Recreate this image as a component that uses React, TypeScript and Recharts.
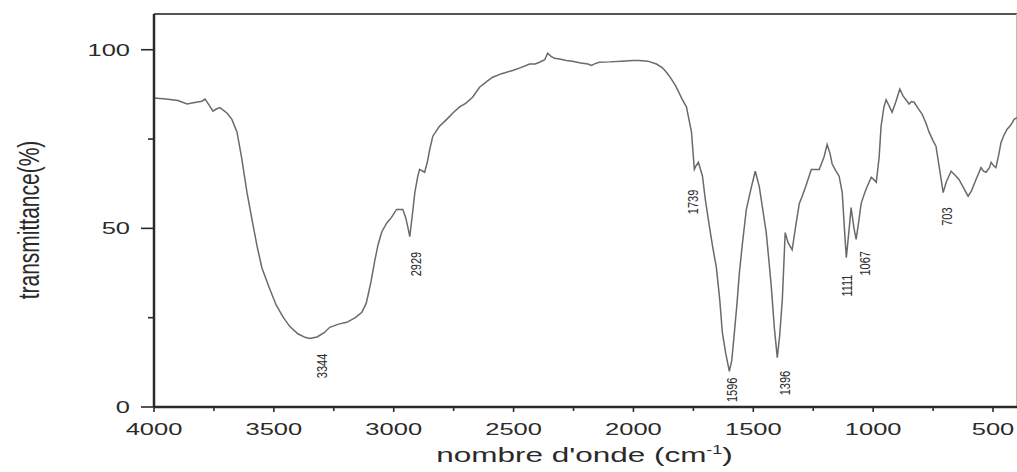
import { ComposedChart, Line, Scatter, XAxis, YAxis, ReferenceLine } from 'recharts';

// wavenumber (cm-1) and transmittance (%)
const wavenumbers = [
  4000, 3950, 3900, 3862, 3830, 3800, 3787, 3770, 3754, 3740, 3725, 3710, 3696, 3675, 3654, 3635, 3612, 3590,
  3570, 3550, 3520, 3490, 3460, 3433, 3400, 3370, 3350, 3320, 3290, 3267, 3230, 3196, 3160, 3133, 3115, 3108,
  3095, 3079, 3065, 3050, 3029, 3010, 2988, 2962, 2950, 2940, 2933, 2921, 2912, 2900, 2892, 2871, 2860, 2850,
  2837, 2810, 2779, 2750, 2725, 2700, 2671, 2642, 2610, 2587, 2550, 2504, 2470, 2433, 2410, 2392, 2370, 2358,
  2345, 2330, 2308, 2280, 2254, 2220, 2190, 2175, 2160, 2142, 2100, 2050, 2000, 1975, 1940, 1904, 1880, 1860,
  1850, 1825, 1810, 1796, 1779, 1770, 1758, 1746, 1739, 1729, 1712, 1700, 1683, 1670, 1654, 1640, 1629, 1615,
  1600, 1590, 1579, 1568, 1558, 1545, 1529, 1510, 1492, 1475, 1460, 1446, 1435, 1425, 1412, 1400, 1390, 1379,
  1367, 1355, 1338, 1320, 1308, 1296, 1280, 1258, 1240, 1225, 1205, 1192, 1180, 1171, 1155, 1142, 1129, 1120,
  1112, 1100, 1092, 1080, 1071, 1060, 1050, 1035, 1025, 1008, 995, 987, 975, 967, 955, 946, 935, 921, 905, 889,
  875, 863, 850, 840, 829, 812, 796, 780, 767, 750, 738, 725, 708, 695, 675, 660, 642, 620, 604, 590, 571, 550,
  540, 529, 515, 508, 497, 488, 475, 467, 455, 442, 425, 412, 400,
];
const transmittance = [
  86.5, 86.2, 85.8, 84.8, 85.2, 85.6, 86.2, 84.5, 82.8, 83.4, 83.8, 83.0, 82.3, 80.5, 77, 70, 60, 52,
  45, 39, 33.5, 28.5, 25, 22.5, 20.5, 19.5, 19.2, 19.6, 20.8, 22.3, 23.2, 23.7, 25, 26.5, 29, 31,
  35, 41, 45.5, 49, 51.5, 53, 55.3, 55.3, 53, 50, 47.7, 54.5, 60, 64.5, 66.5, 65.7, 68.5, 72,
  75.8, 78.5, 80.5, 82.5, 84, 85, 86.7, 89.5, 91.2, 92.3, 93.3, 94.2, 95, 96, 96, 96.5, 97.2, 99,
  98.2, 97.6, 97.4, 97, 96.8, 96.3, 96, 95.6, 96.1, 96.5, 96.6, 96.8, 97, 97, 96.8, 96, 95, 93.5,
  92.6, 90, 88, 86, 84, 81, 77, 66.5, 67.5, 68.5, 64.6, 58, 50.5, 45, 39, 30, 20.8, 15,
  10, 13, 20.8, 29, 37.6, 46, 55.3, 61, 66, 61.7, 55, 48.8, 41, 33.7, 22, 13.8, 20, 30,
  48.8, 46, 44, 52, 57, 59, 62, 66.5, 66.5, 66.5, 70, 73.5, 71, 68, 66, 64.6, 60, 50,
  41.8, 50, 55.8, 50, 46.9, 52, 57, 60, 61.7, 64.3, 63.5, 62.9, 70, 78.6, 84, 86, 84.5, 82.5, 85.5, 89,
  87, 86, 84.8, 85.5, 85.3, 83.5, 82, 79.5, 77, 74.5, 73, 67.4, 60, 63, 66, 65, 63.7, 61, 59, 60.5, 63.7, 67,
  66, 65.7, 67, 68.5, 67.5, 67, 71, 74, 76, 77.7, 79, 80.5, 81,
];

// peak annotations: text and where the text sits (wavenumber, transmittance)
const peakLabels = ['3344', '2929', '1739', '1596', '1396', '1111', '1067', '703'];
const peakLabelW = [3300, 2907, 1751, 1589, 1368, 1109, 1034, 692];
const peakLabelT = [11.5, 40, 57.4, 4.8, 6.7, 34, 40.2, 53.3];

const xTicks = [4000, 3750, 3500, 3250, 3000, 2750, 2500, 2250, 2000, 1750, 1500, 1250, 1000, 750, 500];
const yTicks = [0, 25, 50, 75, 100];

const spectrum = wavenumbers.map((w, i) => ({ w, t: transmittance[i] }));
const peaks = peakLabels.map((label, i) => ({ w: peakLabelW[i], y: peakLabelT[i], label }));

const FONT = '"Liberation Sans", Arial, sans-serif';
const INK = '#2a2a2a';

const XTick = (props: any) => {
  const { x, y, payload } = props;
  const major = payload.value % 500 === 0;
  return (
    <g>
      <line x1={x} y1={y} x2={x} y2={y + (major ? 5 : 4)} stroke={INK} strokeWidth={1.6} />
      {major && (
        <text
          transform={`translate(${x},${y + 28}) scale(1.5,1)`}
          textAnchor="middle"
          fontSize={17}
          fontFamily={FONT}
          fill={INK}
        >
          {payload.value}
        </text>
      )}
    </g>
  );
};

const YTick = (props: any) => {
  const { x, y, payload } = props;
  const major = payload.value % 50 === 0;
  return (
    <g>
      <line x1={x - (major ? 13 : 6)} y1={y} x2={x} y2={y} stroke={INK} strokeWidth={1.6} />
      {major && (
        <text
          transform={`translate(${x - 24},${y + 6}) scale(1.5,1)`}
          textAnchor="end"
          fontSize={17}
          fontFamily={FONT}
          fill={INK}
        >
          {payload.value}
        </text>
      )}
    </g>
  );
};

const PeakLabel = (props: any) => {
  const { cx, cy, payload } = props;
  return (
    <text
      transform={`translate(${cx},${cy}) scale(1.4,1) rotate(-90)`}
      textAnchor="middle"
      dominantBaseline="central"
      fontSize={11}
      fontFamily={FONT}
      fill={INK}
    >
      {payload.label}
    </text>
  );
};

export default function App() {
  // placeholder keeps the page size; the chart itself is positioned on the page
  // so the plot can run right up to the window edge like the original
  return (
    <div style={{ width: 1001, height: 456 }}>
      <div style={{ position: 'absolute', left: 8, top: 8, width: 1009, height: 460 }}>
        <ComposedChart width={1009} height={460} data={spectrum} margin={{ top: 6, right: 0, bottom: 0, left: 0 }}>
          <XAxis
            type="number"
            dataKey="w"
            domain={[400, 4000]}
            reversed
            ticks={xTicks}
            interval={0}
            tickSize={0}
            tickMargin={0}
            tickLine={false}
            tick={<XTick />}
            height={61}
            axisLine={{ stroke: INK, strokeWidth: 2.5 }}
            label={{
              content: (p: any) => {
                const vb = p.viewBox;
                return (
                  <text
                    transform={`translate(${vb.x + vb.width / 2 - 1},${vb.y + 55}) scale(1.5,1)`}
                    textAnchor="middle"
                    fontSize={21}
                    fontFamily={FONT}
                    fill={INK}
                  >
                    nombre d'onde (cm
                    <tspan fontSize={12} dy={-8}>-1</tspan>
                    <tspan dy={8}>)</tspan>
                  </text>
                );
              },
            }}
          />
          <YAxis
            type="number"
            domain={[0, 110]}
            ticks={yTicks}
            interval={0}
            tickSize={0}
            tickMargin={0}
            tickLine={false}
            tick={<YTick />}
            width={146}
            axisLine={{ stroke: INK, strokeWidth: 2.5 }}
            label={{
              content: () => (
                <text
                  transform="translate(21,212) scale(1.4,1) rotate(-90)"
                  textAnchor="middle"
                  dominantBaseline="central"
                  fontSize={21}
                  fontFamily={FONT}
                  fill={INK}
                >
                  transmittance(%)
                </text>
              ),
            }}
          />
          <ReferenceLine y={110} stroke="#555" strokeWidth={2} />
          <ReferenceLine x={400} stroke="#bbb" strokeWidth={2} />
          <Line
            type="linear"
            dataKey="t"
            stroke="#6a6a6a"
            strokeWidth={1.5}
            dot={false}
            isAnimationActive={false}
          />
          <Scatter data={peaks} dataKey="y" shape={<PeakLabel />} isAnimationActive={false} />
        </ComposedChart>
      </div>
    </div>
  );
}
